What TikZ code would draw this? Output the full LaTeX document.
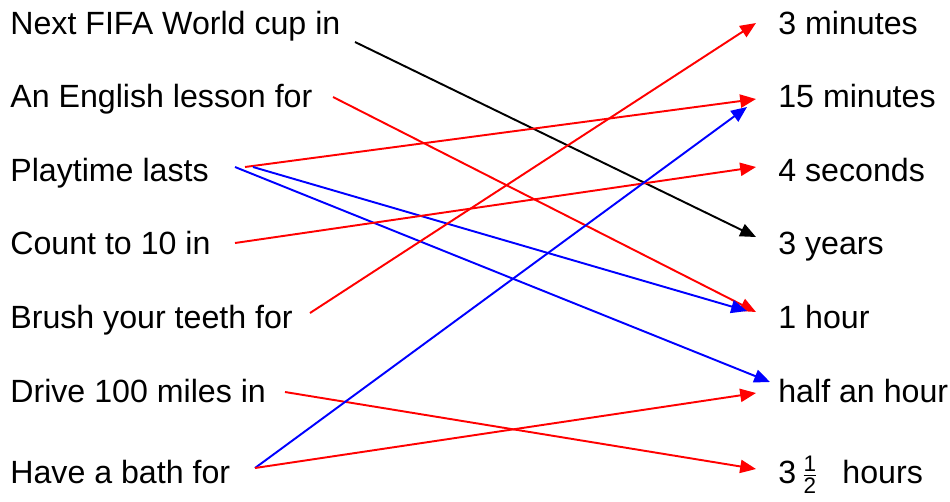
\documentclass[tikz,border=0pt]{standalone}
\usepackage{fontspec}
\usepackage{amsmath}
\setmainfont{Liberation Sans}
\usetikzlibrary{arrows.meta}
\begin{document}
\begin{tikzpicture}[x=0.02cm,y=-0.02cm,
  lbl/.style={anchor=base west,inner sep=0pt,font=\fontsize{18.3}{21}\selectfont},
  conn/.style={line width=1.1pt,-{Triangle[length=9pt,width=7.5pt]}},
  redc/.style={conn,draw=red,fill=red},
  bluec/.style={conn,draw=blue,fill=blue},
  blackc/.style={conn,draw=black,fill=black}]
\useasboundingbox (0,0) rectangle (950,501);
% left column
\node[lbl] (l1) at (10,34) {Next FIFA World cup in};
\node[lbl] (l2) at (10,107) {An English lesson for};
\node[lbl] (l3) at (10,181) {Playtime lasts};
\node[lbl] (l4) at (10,254) {Count to 10 in};
\node[lbl] (l5) at (10,328) {Brush your teeth for};
\node[lbl] (l6) at (10,402) {Drive 100 miles in};
\node[lbl] (l7) at (10,483) {Have a bath for};
% right column
\node[lbl] (r1) at (778,34) {3 minutes};
\node[lbl] (r2) at (778,107) {15 minutes};
\node[lbl] (r3) at (778,181) {4 seconds};
\node[lbl] (r4) at (778,254) {3 years};
\node[lbl] (r5) at (778,328) {1 hour};
\node[lbl] (r6) at (778,402) {half an hour};
\node[lbl] (r7) at (778,483) {3\,$\frac{\text{1}}{\text{2}}$\hspace{0.75em}hours};
% connector end points
\coordinate (s1) at (355,42);
\coordinate (s2) at (333,97);
\coordinate (s3r) at (245,167);
\coordinate (s3a) at (253,167);
\coordinate (s3b) at (235,167);
\coordinate (s4) at (235,243);
\coordinate (s5) at (310,313);
\coordinate (s6) at (285,392);
\coordinate (s7) at (255,468);
\coordinate (e1) at (756,23);
\coordinate (e2r) at (756,99);
\coordinate (e2b) at (747,107);
\coordinate (e3) at (756,167);
\coordinate (e4) at (756,237);
\coordinate (e5r) at (756,312);
\coordinate (e5b) at (747,311);
\coordinate (e6b) at (770,382);
\coordinate (e6r) at (756,393);
\coordinate (e7) at (756,469);
% connectors
\draw[blackc] (s1) -- (e4);
\draw[redc] (s2) -- (e5r);
\draw[redc] (s3r) -- (e2r);
\draw[bluec] (s3a) -- (e5b);
\draw[bluec] (s3b) -- (e6b);
\draw[redc] (s4) -- (e3);
\draw[redc] (s5) -- (e1);
\draw[redc] (s6) -- (e7);
\draw[bluec] (s7) -- (e2b);
\draw[redc] (s7) -- (e6r);
\end{tikzpicture}
\end{document}
